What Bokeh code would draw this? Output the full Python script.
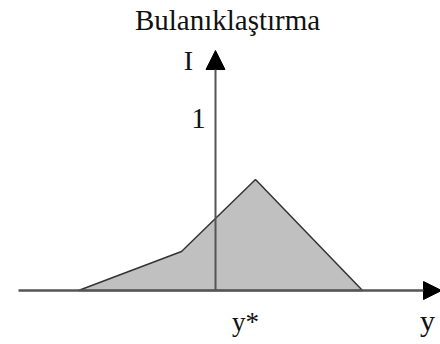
from bokeh.plotting import figure
from bokeh.models import Range1d, Arrow, NormalHead, Label
from bokeh.embed import file_html
from bokeh.resources import INLINE

# Defuzzification: aggregated output fuzzy set (x in output units, mu = membership)
set_x = [-13.7, -3.4, 4.0, 14.7]
set_mu = [0.0, 0.231, 0.657, 0.0]

# axis extents
h_axis = (-19.7, 22.6)      # horizontal axis start / arrow tip
v_axis = (0.0, 1.42)        # vertical axis start / arrow tip
mu_one = 1.0                # level marked "1"
y_star = 3.0                # position of the crisp output label

FONT = "Liberation Serif"

p = figure(width=440, height=344, output_backend="svg", toolbar_location=None,
           x_range=Range1d(-21.5, 22.5), y_range=Range1d(-54 / 169, 290 / 169),
           min_border=0, background_fill_color="white", border_fill_color="white")
p.axis.visible = False
p.grid.visible = False
p.outline_line_color = None

# filled fuzzy set
p.patch(set_x, set_mu, fill_color="#c0c0c0", line_color="#333333", line_width=1.5)

# horizontal axis with arrow
p.add_layout(Arrow(x_start=h_axis[0], y_start=0, x_end=h_axis[1], y_end=0,
                   line_color="#555555", line_width=2.5,
                   end=NormalHead(size=18, fill_color="black", line_color="black")))
# vertical axis with arrow
p.add_layout(Arrow(x_start=0, y_start=v_axis[0], x_end=0, y_end=v_axis[1],
                   line_color="#555555", line_width=2,
                   end=NormalHead(size=19, fill_color="black", line_color="black")))

p.add_layout(Label(x=1.2, y=1.60, text="Bulanıklaştırma", text_font=FONT,
                   text_font_size="29px", text_align="center",
                   text_baseline="alphabetic", text_color="#111111"))
p.add_layout(Label(x=-2.7, y=1.36, text="I", text_font=FONT, text_font_size="28px",
                   text_align="center", text_baseline="middle", text_color="#111111"))
p.add_layout(Label(x=-1.7, y=mu_one + 0.015, text="1", text_font=FONT, text_font_size="29px",
                   text_align="center", text_baseline="middle", text_color="#111111"))
p.add_layout(Label(x=y_star, y=-0.185, text="y*", text_font=FONT, text_font_size="27px",
                   text_align="center", text_baseline="alphabetic", text_color="#111111"))
p.add_layout(Label(x=21.2, y=-0.18, text="y", text_font=FONT, text_font_size="30px",
                   text_align="center", text_baseline="alphabetic", text_color="#111111"))

open("out.html", "w").write(file_html(p, INLINE))
